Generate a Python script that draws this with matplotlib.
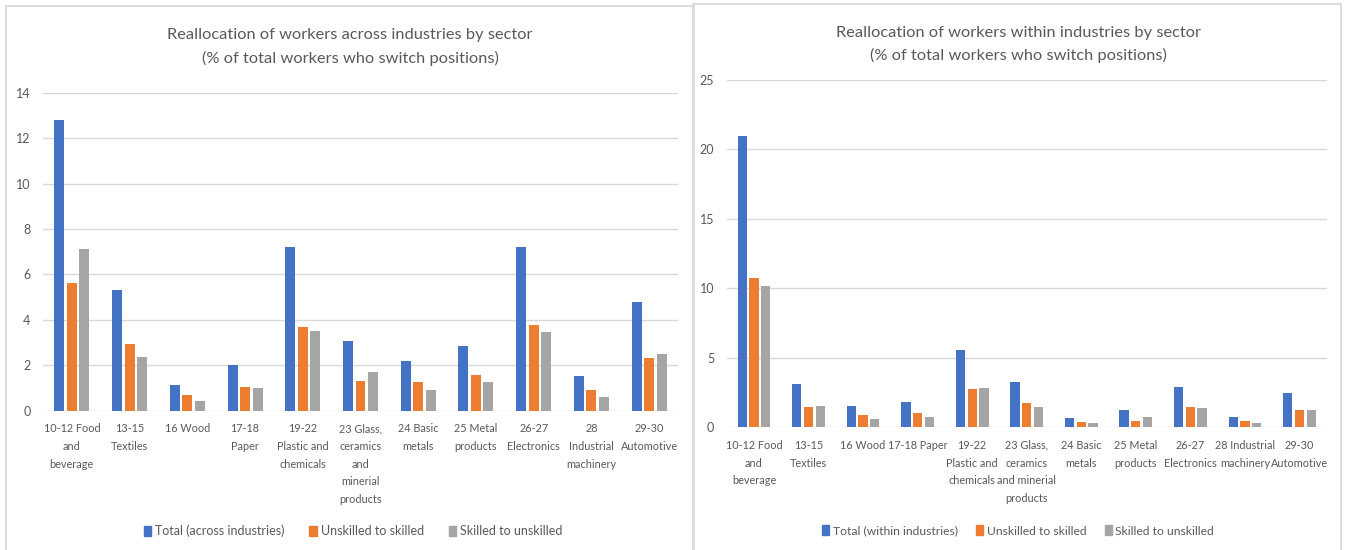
import matplotlib
matplotlib.use("Agg")
import matplotlib.pyplot as plt
from matplotlib.patches import Rectangle
import numpy as np

plt.rcParams['font.family'] = ['Lato', 'DejaVu Sans']

# ---------------- data ----------------
labels_across = ["10-12 Food\nand\nbeverage", "13-15\nTextiles", "16 Wood", "17-18\nPaper",
                 "19-22\nPlastic and\nchemicals", "23 Glass,\nceramics\nand\nminerial\nproducts",
                 "24 Basic\nmetals", "25 Metal\nproducts", "26-27\nElectronics",
                 "28\nIndustrial\nmachinery", "29-30\nAutomotive"]
labels_within = ["10-12 Food\nand\nbeverage", "13-15\nTextiles", "16 Wood", "17-18 Paper",
                 "19-22\nPlastic and\nchemicals", "23 Glass,\nceramics\nand minerial\nproducts",
                 "24 Basic\nmetals", "25 Metal\nproducts", "26-27\nElectronics",
                 "28 Industrial\nmachinery", "29-30\nAutomotive"]

across_total = [12.8, 5.3, 1.12, 2.0, 7.2, 3.05, 2.17, 2.86, 7.2, 1.52, 4.8]
across_unsk_to_sk = [5.63, 2.93, 0.68, 1.02, 3.66, 1.3, 1.27, 1.56, 3.75, 0.9, 2.3]
across_sk_to_unsk = [7.11, 2.34, 0.42, 0.99, 3.49, 1.71, 0.9, 1.27, 3.46, 0.61, 2.49]

within_total = [20.95, 3.09, 1.53, 1.82, 5.56, 3.27, 0.68, 1.22, 2.93, 0.76, 2.49]
within_unsk_to_sk = [10.77, 1.48, 0.87, 1.05, 2.74, 1.78, 0.39, 0.45, 1.48, 0.45, 1.23]
within_sk_to_unsk = [10.18, 1.53, 0.63, 0.76, 2.8, 1.48, 0.29, 0.76, 1.37, 0.29, 1.23]

legend_across = ["Total (across industries)", "Unskilled to skilled", "Skilled to unskilled"]
legend_within = ["Total (within industries)", "Unskilled to skilled", "Skilled to unskilled"]

title_across = "Reallocation of workers across industries by sector\n(% of total workers who switch positions)"
title_within = "Reallocation of workers within industries by sector\n(% of total workers who switch positions)"

colors = ["#4472C4", "#ED7D31", "#A5A5A5"]
text_color = "#595959"
grid_color = "#D9D9D9"

W, H = 1346, 550
fig = plt.figure(figsize=(W / 100, H / 100), dpi=100)
fig.patch.set_facecolor("white")


def fx(px):
    return px / W


def fy(py):
    return 1 - py / H


# panel borders
fig.patches.append(Rectangle((fx(6), fy(560)), fx(693.5) - fx(6), fy(6) - fy(560),
                             transform=fig.transFigure, fill=False, edgecolor="#D9D9D9", lw=1.3))
fig.patches.append(Rectangle((fx(693.5), fy(560)), fx(1341) - fx(693.5), fy(4) - fy(560),
                             transform=fig.transFigure, fill=False, edgecolor="#D9D9D9", lw=1.3))


def draw(ax, labels, series, ymax, ystep, bw, off):
    x = np.arange(len(labels))
    for i, (vals, c) in enumerate(zip(series, colors)):
        ax.bar(x + (i - 1) * off, vals, width=bw, color=c, zorder=3)
    ax.set_xlim(-0.5, len(labels) - 0.5)
    ax.set_ylim(0, ymax)
    ax.set_yticks(np.arange(0, ymax + 0.01, ystep))
    ax.yaxis.grid(True, color=grid_color, lw=1.0, zorder=0)
    ax.set_axisbelow(True)
    for s in ax.spines.values():
        s.set_visible(False)
    ax.set_xticks(x)
    ax.set_xticklabels(labels, linespacing=1.75, fontsize=7.8, color=text_color)
    ax.tick_params(axis="x", length=0, pad=9)
    ax.tick_params(axis="y", length=0, pad=9, labelsize=9, labelcolor=text_color)


# left chart
ax1 = fig.add_axes([fx(43), fy(410.5), fx(678) - fx(43), fy(93) - fy(410.5)])
draw(ax1, labels_across, [across_total, across_unsk_to_sk, across_sk_to_unsk], 14, 2, 0.173, 0.217)
fig.text(fx(350), fy(47), title_across, ha="center", va="center", fontsize=11.8,
         color=text_color, linespacing=1.7)

# right chart
ax2 = fig.add_axes([fx(726.7), fy(427.3), fx(1326.7) - fx(726.7), fy(80) - fy(427.3)])
draw(ax2, labels_within, [within_total, within_unsk_to_sk, within_sk_to_unsk], 25, 5, 0.17, 0.215)
fig.text(fx(1018), fy(44.5), title_within, ha="center", va="center", fontsize=11.8,
         color=text_color, linespacing=1.7)

# legends
for ax, names, cx, fs, cs in [(ax1, legend_across, 353, 9, 2.0),
                              (ax2, legend_within, 1018, 8.7, 1.5)]:
    handles = [Rectangle((0, 0), 1, 1, color=c) for c in colors]
    fig.legend(handles, names, loc="center", bbox_to_anchor=(fx(cx), fy(531)), ncol=3,
               frameon=False, fontsize=fs, labelcolor=text_color, handlelength=0.6,
               handleheight=0.9, handletextpad=0.3, columnspacing=cs)

fig.savefig("out.png", dpi=100, facecolor="white")
